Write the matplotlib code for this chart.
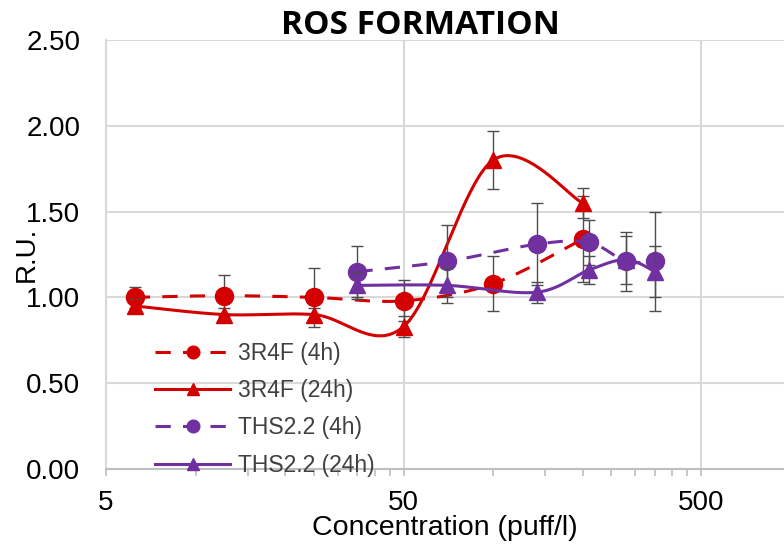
import matplotlib
matplotlib.use("Agg")
import matplotlib.pyplot as plt
import numpy as np

# concentracije (puff/l)
conc_3r4f = [6.25, 12.5, 25, 50, 100, 200]
conc_ths = [35, 70, 140, 210, 280, 350]

# vrednosti (R.U.)
r4f_4h = [1.00, 1.01, 1.00, 0.98, 1.08, 1.34]
r4f_24h = [0.95, 0.90, 0.90, 0.83, 1.80, 1.55]
ths_4h = [1.15, 1.21, 1.31, 1.32, 1.21, 1.21]
ths_24h = [1.07, 1.07, 1.03, 1.16, 1.22, 1.15]

# napake
r4f_4h_err = [0.06, 0.12, 0.17, 0.12, 0.16, 0.25]
r4f_24h_err = [0.04, 0.04, 0.04, 0.06, 0.17, 0.09]
ths_4h_err = [0.15, 0.21, 0.24, 0.13, 0.17, 0.29]
ths_24h_err = [0.08, 0.10, 0.06, 0.08, 0.14, 0.15]

labels = ["3R4F (4h)", "3R4F (24h)", "THS2.2 (4h)", "THS2.2 (24h)"]
xticks = [5, 50, 500]
yticks = [0.0, 0.5, 1.0, 1.5, 2.0, 2.5]

RED = "#d40000"
PURPLE = "#7030a0"
GRID = "#d9d9d9"


def gladka_krivulja(x, y, n=40):
    # Excel-ov "smooth line" (Catmull-Rom / Bezier) v log-x prostoru
    u = np.log10(np.asarray(x, dtype=float))
    v = np.asarray(y, dtype=float)
    P = np.column_stack([u, v])
    out = []
    t = np.linspace(0, 1, n)
    for i in range(len(P) - 1):
        p0 = P[i - 1] if i > 0 else P[i]
        p1 = P[i]
        p2 = P[i + 1]
        p3 = P[i + 2] if i + 2 < len(P) else P[i + 1]
        c1 = p1 + (p2 - p0) / 6
        c2 = p2 - (p3 - p1) / 6
        seg = ((1 - t) ** 3)[:, None] * p1 + (3 * (1 - t) ** 2 * t)[:, None] * c1 \
            + (3 * (1 - t) * t ** 2)[:, None] * c2 + (t ** 3)[:, None] * p2
        if i > 0:
            seg = seg[1:]
        out.append(seg)
    out = np.vstack(out)
    return 10 ** out[:, 0], out[:, 1]


plt.rcParams['font.family'] = ['Liberation Sans', 'DejaVu Sans']

fig = plt.figure(figsize=(7.84, 5.48), dpi=100)
ax = fig.add_axes([106 / 784, 79 / 548, 678 / 784, 429 / 548])

ax.set_xscale("log")
ax.set_xlim(5, 950)
ax.set_ylim(0, 2.5)

serije = [
    (conc_3r4f, r4f_4h, r4f_4h_err, RED, "o", "--", labels[0]),
    (conc_3r4f, r4f_24h, r4f_24h_err, RED, "^", "-", labels[1]),
    (conc_ths, ths_4h, ths_4h_err, PURPLE, "o", "--", labels[2]),
    (conc_ths, ths_24h, ths_24h_err, PURPLE, "^", "-", labels[3]),
]

handles = []
for k, (x, y, e, c, m, ls, lab) in enumerate(serije):
    z = 3 + k
    ax.errorbar(x, y, yerr=e, fmt="none", ecolor="#4d4d4d", elinewidth=1.0,
                capsize=4.5, capthick=1.0, zorder=z)
    xs, ys = gladka_krivulja(x, y)
    if ls == "--":
        ax.plot(xs, ys, color=c, lw=2.2, dashes=(5, 4), zorder=z, clip_on=False)
    else:
        ax.plot(xs, ys, color=c, lw=2.2, zorder=z, clip_on=False)
    ms = 13 if m == "o" else 12
    ax.plot(x, y, linestyle="none", marker=m, ms=ms, color=c, mec=c, zorder=z)
    h, = ax.plot([], [], color=c, lw=2.2, marker=m, ms=ms, label=lab)
    if ls == "--":
        h.set_dashes((5, 4))
    handles.append(h)

# osi
ax.set_xticks(xticks)
ax.set_xticklabels([str(v) for v in xticks])
minor = [5 * k for k in range(2, 10)] + [50 * k for k in range(2, 10)]
ax.set_xticks(minor, minor=True)
ax.xaxis.set_minor_formatter(matplotlib.ticker.NullFormatter())
ax.set_yticks(yticks)
ax.set_yticklabels([f"{v:.2f}" for v in yticks])

ax.tick_params(axis="x", which="both", length=5, color="#bfbfbf", width=1.2,
               labelsize=20, pad=10)
ax.tick_params(axis="y", length=0, labelsize=20, pad=18.5)

ax.grid(True, which="major", color=GRID, lw=1.5, zorder=0)
ax.set_axisbelow(True)
for s in ["top", "right"]:
    ax.spines[s].set_visible(False)
ax.spines["left"].set_color(GRID)
ax.spines["left"].set_linewidth(1.5)
ax.spines["bottom"].set_color("#bfbfbf")
ax.spines["bottom"].set_linewidth(1.5)

ax.set_xlabel("Concentration (puff/l)", fontsize=20.5)
ax.xaxis.set_label_coords(0.5, -0.108)
ax.set_ylabel("R.U.", fontsize=20)
ax.yaxis.set_label_coords(-0.097, 0.5)

leg = ax.legend(handles=handles, loc="upper left", bbox_to_anchor=(0.072, 0.296),
                frameon=False, fontsize=16.5, handlelength=3.3, handletextpad=0.35,
                labelspacing=0.62, markerscale=0.7, borderpad=0, borderaxespad=0)
for t in leg.get_texts():
    t.set_color("#404040")

fig.text(420 / 784, 1 - 25 / 548, "ROS FORMATION", ha="center", va="center",
         fontsize=24, fontweight="bold", family=["Open Sans", "DejaVu Sans"])

fig.savefig("out.png", dpi=100)
